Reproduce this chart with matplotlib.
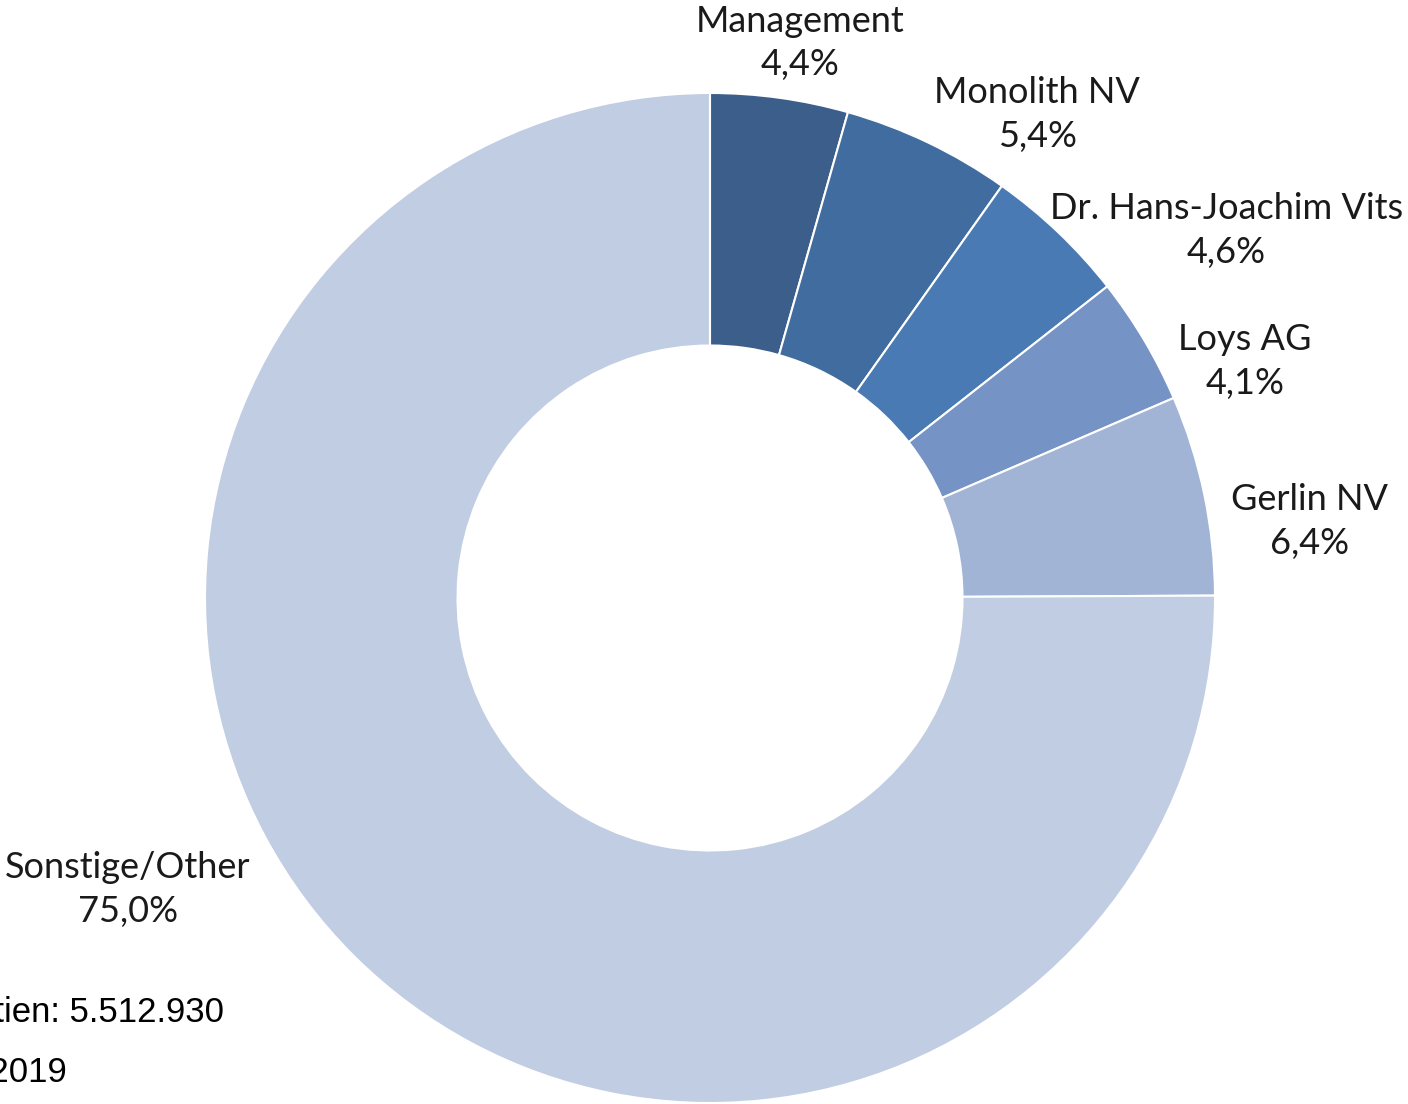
import matplotlib
matplotlib.use("Agg")
import matplotlib.pyplot as plt

# Aktionärsstruktur (shareholder structure)
names = ["Management", "Monolith NV", "Dr. Hans-Joachim Vits", "Loys AG", "Gerlin NV", "Sonstige/Other"]
shares = [4.4, 5.4, 4.6, 4.1, 6.4, 75.0]
colors = ["#3b5e8a", "#416c9f", "#4a7ab4", "#7693c5", "#a2b4d5", "#c1cde2"]

# label centres in axes units (pie radius = 1)
label_pos = [(0.178, 1.099), (0.648, 0.958), (1.022, 0.727), (1.059, 0.469),
             (1.188, 0.152), (-1.153, -0.578)]

fig = plt.figure(figsize=(14.08, 11.04), dpi=100)
R = 505
cx, cy = 710, 598
ax = fig.add_axes([(cx - R) / 1408, (1104 - cy - R) / 1104, 2 * R / 1408, 2 * R / 1104])

ax.pie(shares, colors=colors, startangle=90, counterclock=False, radius=1,
       wedgeprops=dict(width=0.5, edgecolor="white", linewidth=1.5))
ax.set_xlim(-1, 1)
ax.set_ylim(-1, 1)
ax.axis("off")

for name, val, (x, y) in zip(names, shares, label_pos):
    pct = f"{val:.1f}%".replace(".", ",")
    ax.text(x, y, f"{name}\n{pct}", ha="center", va="center", fontsize=26, family="Lato",
            color="#1a1a1a", linespacing=1.4)

fig.text(224 / 1408, 1 - 1012 / 1104, "Anzahl Aktien: 5.512.930", ha="right", va="center",
         fontsize=25, family="Liberation Sans", color="black")
fig.text(67 / 1408, 1 - 1073 / 1104, "Stand: 30.06.2019", ha="right", va="center",
         fontsize=25, family="Liberation Sans", color="black")

fig.savefig("out.png", dpi=100)
